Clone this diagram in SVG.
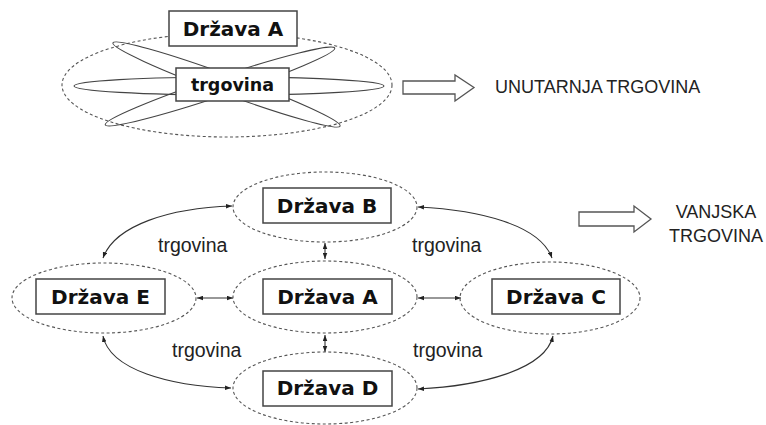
<svg xmlns="http://www.w3.org/2000/svg" width="766" height="425" viewBox="0 0 766 425">
<style>
.dash{fill:none;stroke:#555;stroke-width:1.1;stroke-dasharray:3,2.5}
.petal{fill:none;stroke:#444;stroke-width:1.1}
.box{fill:#fff;stroke:#444;stroke-width:1.5}
.lbl{font-family:"DejaVu Sans",sans-serif;font-weight:bold;font-size:20px;fill:#111;text-anchor:middle}
.tr{font-family:"Liberation Sans",Arial,sans-serif;font-size:19.5px;fill:#222}
.cap{font-family:"Liberation Sans",Arial,sans-serif;font-size:18px;fill:#222}
.con{fill:none;stroke:#333;stroke-width:1.1;marker-start:url(#ah);marker-end:url(#ah)}
.blk{fill:#fff;stroke:#555;stroke-width:1.3}
</style>
<defs>
<marker id="ah" viewBox="0 0 8 6" refX="8" refY="3" markerWidth="6" markerHeight="5" markerUnits="userSpaceOnUse" orient="auto-start-reverse">
<path d="M0,0 L8,3 L0,6 Z" fill="#222"/>
</marker>
</defs>
<rect width="766" height="425" fill="#fff"/>

<g id="top-country">
<ellipse class="dash" cx="227" cy="85" rx="165" ry="52"/>
<ellipse class="petal" cx="229" cy="86" rx="155" ry="9"/>
<ellipse class="petal" cx="226.5" cy="84.5" rx="121" ry="9.5" transform="rotate(20.1 226.5 84.5)"/>
<ellipse class="petal" cx="220" cy="86.5" rx="121" ry="9.5" transform="rotate(-18.5 220 86.5)"/>
<rect class="box" x="169" y="11" width="128" height="35"/>
<text class="lbl" x="233" y="36">Država A</text>
<rect class="box" x="176" y="68" width="113" height="33"/>
<text class="lbl" x="232.5" y="91" style="font-size:17.5px">trgovina</text>
</g>

<g id="arrow-unutarnja">
<path class="blk" d="M403,81 L455,81 L455,75 L474,87.5 L455,101 L455,94 L403,94 Z"/>
<text class="cap" x="495" y="93">UNUTARNJA TRGOVINA</text>
</g>

<g id="arrow-vanjska">
<path class="blk" d="M579,212 L634,212 L634,206 L651,219 L634,232 L634,226 L579,226 Z"/>
<text class="cap" x="716" y="218" text-anchor="middle">VANJSKA</text>
<text class="cap" x="716" y="242" text-anchor="middle">TRGOVINA</text>
</g>

<g id="connectors">
<path class="con" d="M232,206 C170,208 115,225 103,258"/>
<path class="con" d="M418,207 C480,210 540,225 552,258"/>
<path class="con" d="M103,336 C110,370 170,386 231,388"/>
<path class="con" d="M553,336 C545,370 480,386 418,389"/>
<path class="con" d="M325,243 L325,259"/>
<path class="con" d="M325,335 L325,352"/>
<path class="con" d="M197,298 L233,298"/>
<path class="con" d="M418,298 L461,298"/>
<text class="tr" x="158" y="252">trgovina</text>
<text class="tr" x="412" y="252">trgovina</text>
<text class="tr" x="172" y="357">trgovina</text>
<text class="tr" x="413" y="357">trgovina</text>
</g>

<g id="drzava-b">
<ellipse class="dash" cx="325" cy="207" rx="92" ry="35"/>
<rect class="box" x="263" y="188" width="128" height="35"/>
<text class="lbl" x="327" y="213">Država B</text>
</g>
<g id="drzava-e">
<ellipse class="dash" cx="104" cy="298" rx="92" ry="35"/>
<rect class="box" x="36" y="279" width="129" height="35"/>
<text class="lbl" x="100.5" y="304">Država E</text>
</g>
<g id="drzava-a">
<ellipse class="dash" cx="325" cy="297" rx="92" ry="36"/>
<rect class="box" x="263" y="279" width="129" height="35"/>
<text class="lbl" x="327.5" y="304">Država A</text>
</g>
<g id="drzava-c">
<ellipse class="dash" cx="550" cy="298" rx="90" ry="36"/>
<rect class="box" x="492" y="279" width="128" height="35"/>
<text class="lbl" x="556" y="304">Država C</text>
</g>
<g id="drzava-d">
<ellipse class="dash" cx="325" cy="388" rx="92" ry="36"/>
<rect class="box" x="263" y="371" width="129" height="35"/>
<text class="lbl" x="327.5" y="395">Država D</text>
</g>
</svg>
